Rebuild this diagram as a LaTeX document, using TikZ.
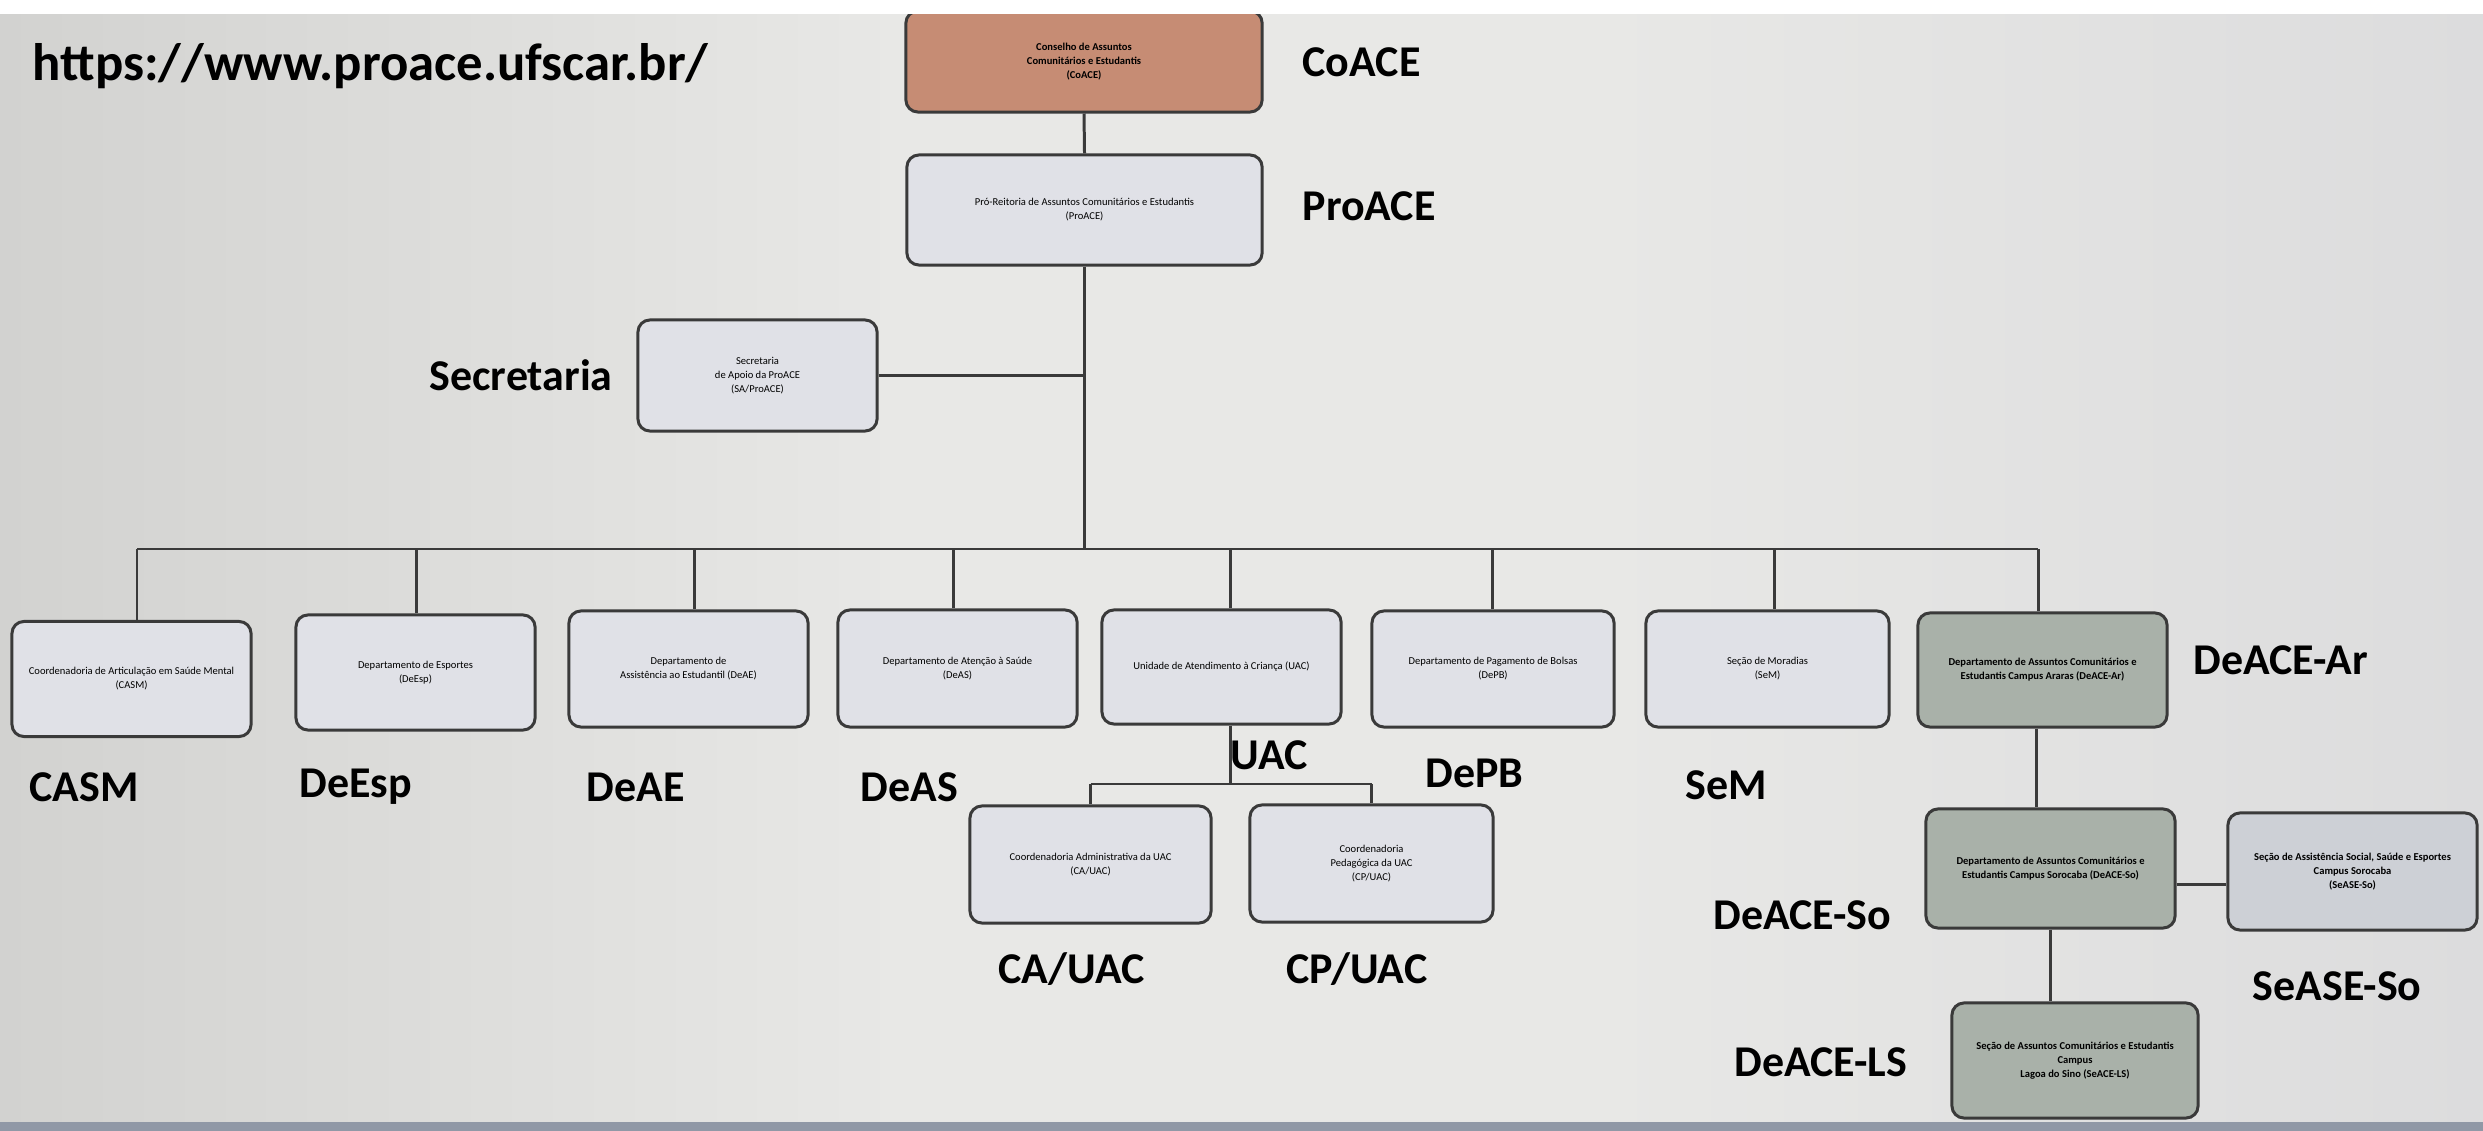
\documentclass[tikz,border=0pt]{standalone}
\usepackage{fontspec}
\setmainfont{Carlito}
\usetikzlibrary{calc}
\definecolor{bgL}{HTML}{D2D2D0}
\definecolor{bgM}{HTML}{E8E8E6}
\definecolor{bgR}{HTML}{DCDCDD}
\definecolor{boxfill}{HTML}{E0E1E7}
\definecolor{boxline}{HTML}{3A3A3A}
\definecolor{coacefill}{HTML}{C68C74}
\definecolor{greenfill}{HTML}{A9B1A9}
\definecolor{seasefill}{HTML}{CDD0D6}
\definecolor{bottomstrip}{HTML}{9098A6}
\begin{document}
\begin{tikzpicture}[x=0.01cm,y=-0.01cm,
  box/.style={draw=boxline, line width=0.85pt, rounded corners=0.12cm, fill=boxfill,
    align=center, font=\fontsize{3}{4}\selectfont, inner sep=0pt},
  greenbox/.style={box, fill=greenfill, font=\fontsize{3}{4}\selectfont\bfseries},
  lbl/.style={anchor=west, font=\fontsize{12.5}{14}\selectfont\bfseries, inner sep=0pt, text=black},
  conn/.style={draw=boxline, line width=0.85pt}]
\useasboundingbox (0,0) rectangle (2483,1131);
% background
\fill[bgM] (0,0) rectangle (2483,1131);
\shade[left color=bgL, right color=bgM] (0,0) rectangle (900,1131);
\shade[left color=bgM, right color=bgR] (1600,0) rectangle (2483,1131);
\fill[bottomstrip] (0,1122) rectangle (2483,1131);

% boxes
\node[box, fill=coacefill, font=\fontsize{3}{4}\selectfont\bfseries, minimum width=3.56cm, minimum height=1.01cm] (coace) at (1084,61.5) {Conselho de Assuntos\\Comunitários e Estudantis\\(CoACE)};
\node[box, minimum width=3.55cm, minimum height=1.10cm] (proace) at (1084.5,210) {Pró-Reitoria de Assuntos Comunitários e Estudantis\\(ProACE)};
\node[box, minimum width=2.39cm, minimum height=1.11cm] (secr) at (757.5,375.5) {Secretaria\\de Apoio da ProACE\\(SA/ProACE)};

\node[box, minimum width=2.39cm, minimum height=1.15cm] (casm) at (131.5,679) {Coordenadoria de Articulação em Saúde Mental\\(CASM)};
\node[box, minimum width=2.39cm, minimum height=1.15cm] (deesp) at (415.5,672.5) {Departamento de Esportes\\(DeEsp)};
\node[box, minimum width=2.39cm, minimum height=1.16cm] (deae) at (688.5,669) {Departamento de\\Assistência ao Estudantil (DeAE)};
\node[box, minimum width=2.39cm, minimum height=1.17cm] (deas) at (957.5,668.5) {Departamento de Atenção à Saúde\\(DeAS)};
\node[box, minimum width=2.39cm, minimum height=1.14cm] (uac) at (1221.5,667) {Unidade de Atendimento à Criança (UAC)};
\node[box, minimum width=2.42cm, minimum height=1.16cm] (depb) at (1493,669) {Departamento de Pagamento de Bolsas\\(DePB)};
\node[box, minimum width=2.43cm, minimum height=1.16cm] (sem) at (1767.5,669) {Seção de Moradias\\(SeM)};
\node[greenbox, minimum width=2.49cm, minimum height=1.14cm] (ar) at (2042.5,670) {Departamento de Assuntos Comunitários e\\Estudantis Campus Araras (DeACE-Ar)};

\node[box, minimum width=2.41cm, minimum height=1.17cm] (caua) at (1090.5,864.5) {Coordenadoria Administrativa da UAC\\(CA/UAC)};
\node[box, minimum width=2.43cm, minimum height=1.17cm] (cpua) at (1371.5,863.5) {Coordenadoria\\Pedagógica da UAC\\(CP/UAC)};

\node[greenbox, minimum width=2.49cm, minimum height=1.19cm] (so) at (2050.5,868.5) {Departamento de Assuntos Comunitários e\\Estudantis Campus Sorocaba (DeACE-So)};
\node[box, font=\fontsize{3}{4}\selectfont\bfseries, fill=seasefill, minimum width=2.49cm, minimum height=1.17cm] (sease) at (2352.5,871.5) {Seção de Assistência Social, Saúde e Esportes\\Campus Sorocaba\\(SeASE-So)};
\node[greenbox, minimum width=2.46cm, minimum height=1.15cm] (ls) at (2075,1060.5) {Seção de Assuntos Comunitários e Estudantis\\Campus\\Lagoa do Sino (SeACE-LS)};

% connectors
\coordinate (busy) at (0,549);
\coordinate (suby) at (0,784);
\draw[conn] (coace.south) -- (proace.north);
\draw[conn] (proace.south) -- (proace.south |- busy);
\draw[conn] (secr.east) -- (secr.east -| proace.south);
\coordinate (bl) at ($(casm.north)+(5.5,0)$);
\coordinate (br) at ($(ar.north)+(-4.5,0)$);
\draw[conn] (bl |- busy) -- (br |- busy);
\foreach \n/\dx in {casm/5.5,deesp/0.5,deae/5.5,deas/-4.5,uac/8.5,depb/-1,sem/6.5,ar/-4.5}{
  \coordinate (dtop) at ($(\n.north)+(\dx,0)$);
  \draw[conn] (dtop) -- (dtop |- busy);
}
\coordinate (us) at ($(uac.south)+(8.5,0)$);
\draw[conn] (us) -- (us |- suby);
\draw[conn] (caua.north |- suby) -- (cpua.north |- suby);
\draw[conn] (caua.north) -- (caua.north |- suby);
\draw[conn] (cpua.north) -- (cpua.north |- suby);
\coordinate (ars) at ($(ar.south)+(-6,0)$);
\draw[conn] (ars) -- (ars |- so.north);
\coordinate (soe) at ($(so.east)+(0,16)$);
\draw[conn] (soe) -- (soe -| sease.west);
\draw[conn] (so.south) -- (so.south |- ls.north);

% white band at top (photo edge)
\fill[white] (0,0) rectangle (2483,14);

% labels
\node[lbl, font=\fontsize{15}{17}\selectfont\bfseries] (lurl) at (32,66) {https://www.proace.ufscar.br/};
\node[lbl] (lcoace) at (1302,62) {CoACE};
\node[lbl] (lproace) at (1302,206) {ProACE};
\node[lbl] (lsecr) at (429,375) {Secretaria};
\node[lbl] (lar) at (2193,660) {DeACE-Ar};
\node[lbl] (lcasm) at (29,787) {CASM};
\node[lbl] (ldeesp) at (299,787) {DeEsp};
\node[lbl] (ldeae) at (586,787) {DeAE};
\node[lbl] (ldeas) at (860,787) {DeAS};
\node[lbl] (luac) at (1230,755) {UAC};
\node[lbl] (ldepb) at (1425,773) {DePB};
\node[lbl] (lsem) at (1685,785) {SeM};
\node[lbl] (lcaua) at (998,969) {CA/UAC};
\node[lbl] (lcpua) at (1286,969) {CP/UAC};
\node[lbl] (lso) at (1713,915) {DeACE-So};
\node[lbl] (lsease) at (2252,986) {SeASE-So};
\node[lbl] (lls) at (1734,1062) {DeACE-LS};
\end{tikzpicture}
\end{document}
